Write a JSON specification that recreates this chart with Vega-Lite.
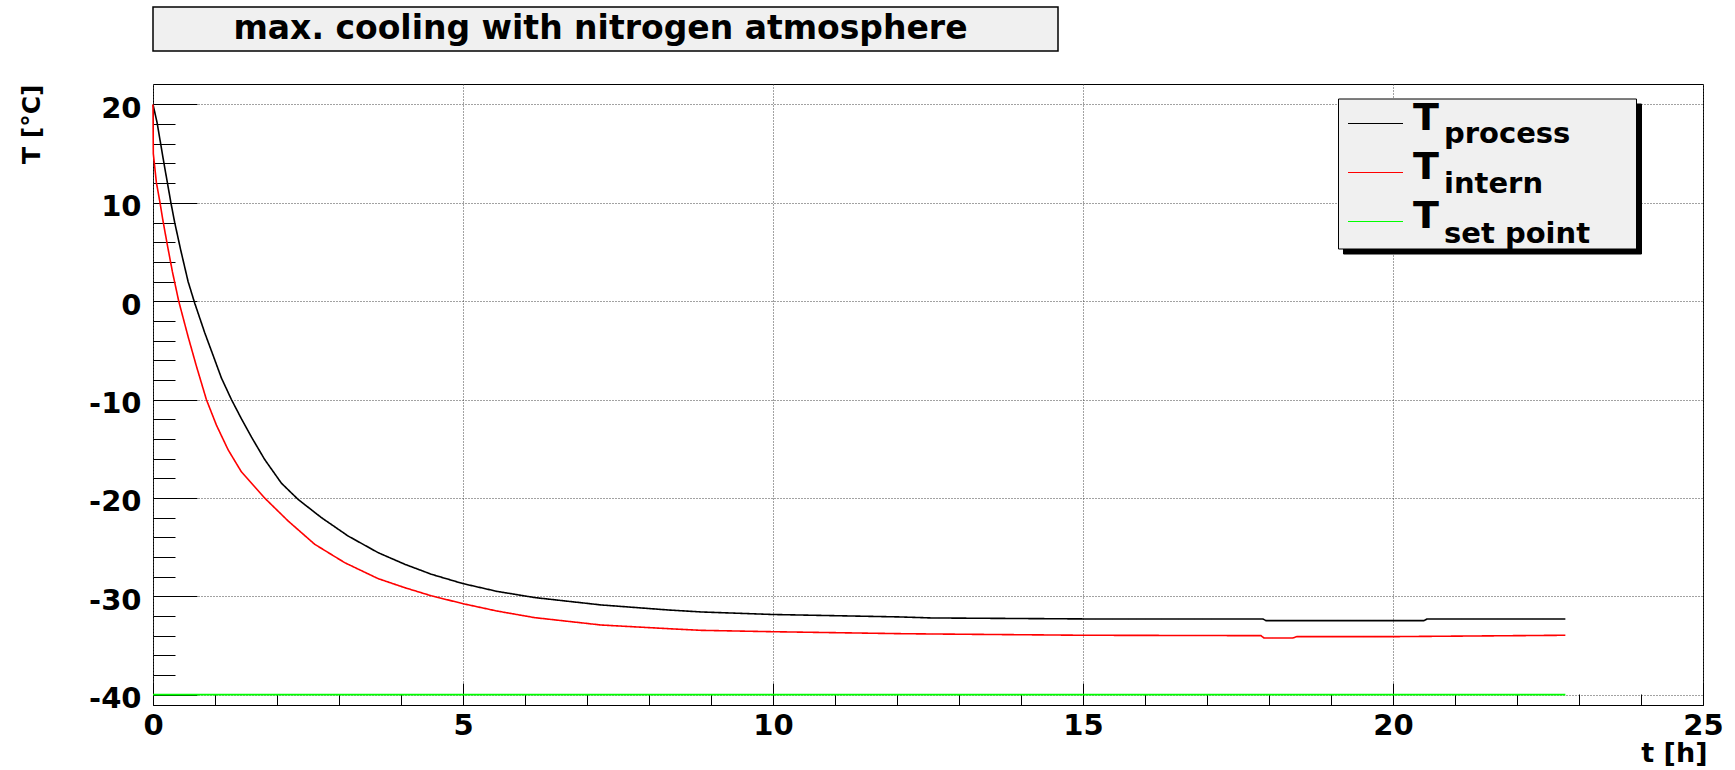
{
  "$schema": "https://vega.github.io/schema/vega-lite/v6.json",
  "background": "white",
  "padding": {"left": 18, "top": 6, "right": 5, "bottom": 5},
  "bounds": "flush",
  "spacing": 33,
  "config": {
    "font": "DejaVu Sans",
    "view": {"stroke": "#000000", "strokeWidth": 1},
    "axis": {
      "labelFont": "DejaVu Sans", "labelFontWeight": "bold", "labelColor": "#000000",
      "titleFont": "DejaVu Sans", "titleFontWeight": "bold", "titleColor": "#000000",
      "domain": false, "tickColor": "#000000", "tickWidth": 1
    },
    "legend": {"labelFont": "DejaVu Sans", "labelFontWeight": "bold", "labelColor": "#000000"}
  },
  "vconcat": [
    {
      "width": 905,
      "height": 44,
      "view": {"fill": "#f0f0f0", "stroke": "#000000", "strokeWidth": 1.5},
      "data": {"values": [{"label": "max. cooling with nitrogen atmosphere"}]},
      "mark": {"type": "text", "font": "DejaVu Sans", "fontWeight": "bold", "fontSize": 33, "align": "center", "baseline": "middle", "dx": -5, "color": "#000000"},
      "encoding": {"text": {"field": "label", "type": "nominal"}}
    },
    {
      "width": 1550,
      "height": 621,
      "view": {"fill": "white", "stroke": "#000000", "strokeWidth": 1},
      "data": {"values": [
        {"t": 0, "T": 20.0, "series": "process"},
        {"t": 0.066, "T": 18.15, "series": "process"},
        {"t": 0.125, "T": 15.95, "series": "process"},
        {"t": 0.18, "T": 13.9, "series": "process"},
        {"t": 0.232, "T": 12.05, "series": "process"},
        {"t": 0.286, "T": 10.1, "series": "process"},
        {"t": 0.35, "T": 8.0, "series": "process"},
        {"t": 0.447, "T": 5.2, "series": "process"},
        {"t": 0.566, "T": 2.0, "series": "process"},
        {"t": 0.673, "T": -0.2, "series": "process"},
        {"t": 0.834, "T": -3.2, "series": "process"},
        {"t": 0.969, "T": -5.5, "series": "process"},
        {"t": 1.103, "T": -7.8, "series": "process"},
        {"t": 1.265, "T": -10.0, "series": "process"},
        {"t": 1.426, "T": -11.95, "series": "process"},
        {"t": 1.587, "T": -13.8, "series": "process"},
        {"t": 1.802, "T": -16.1, "series": "process"},
        {"t": 2.071, "T": -18.5, "series": "process"},
        {"t": 2.34, "T": -20.15, "series": "process"},
        {"t": 2.716, "T": -22.0, "series": "process"},
        {"t": 3.147, "T": -23.87, "series": "process"},
        {"t": 3.63, "T": -25.56, "series": "process"},
        {"t": 4.06, "T": -26.74, "series": "process"},
        {"t": 4.49, "T": -27.76, "series": "process"},
        {"t": 5.0, "T": -28.71, "series": "process"},
        {"t": 5.55, "T": -29.5, "series": "process"},
        {"t": 6.157, "T": -30.13, "series": "process"},
        {"t": 7.23, "T": -30.88, "series": "process"},
        {"t": 8.31, "T": -31.39, "series": "process"},
        {"t": 8.84, "T": -31.59, "series": "process"},
        {"t": 10.0, "T": -31.85, "series": "process"},
        {"t": 12.07, "T": -32.1, "series": "process"},
        {"t": 12.55, "T": -32.2, "series": "process"},
        {"t": 15.0, "T": -32.3, "series": "process"},
        {"t": 17.9, "T": -32.3, "series": "process"},
        {"t": 17.95, "T": -32.47, "series": "process"},
        {"t": 20.5, "T": -32.47, "series": "process"},
        {"t": 20.55, "T": -32.3, "series": "process"},
        {"t": 22.78, "T": -32.3, "series": "process"},
        {"t": 0, "T": 20.0, "series": "intern"},
        {"t": 0.005, "T": 15.0, "series": "intern"},
        {"t": 0.055, "T": 12.05, "series": "intern"},
        {"t": 0.108, "T": 10.2, "series": "intern"},
        {"t": 0.163, "T": 8.1, "series": "intern"},
        {"t": 0.232, "T": 5.7, "series": "intern"},
        {"t": 0.313, "T": 3.0, "series": "intern"},
        {"t": 0.415, "T": 0.0, "series": "intern"},
        {"t": 0.566, "T": -3.6, "series": "intern"},
        {"t": 0.7, "T": -6.6, "series": "intern"},
        {"t": 0.861, "T": -10.0, "series": "intern"},
        {"t": 1.023, "T": -12.6, "series": "intern"},
        {"t": 1.211, "T": -15.1, "series": "intern"},
        {"t": 1.426, "T": -17.35, "series": "intern"},
        {"t": 1.8, "T": -20.0, "series": "intern"},
        {"t": 2.179, "T": -22.34, "series": "intern"},
        {"t": 2.608, "T": -24.71, "series": "intern"},
        {"t": 3.092, "T": -26.58, "series": "intern"},
        {"t": 3.63, "T": -28.2, "series": "intern"},
        {"t": 4.06, "T": -29.12, "series": "intern"},
        {"t": 4.49, "T": -29.95, "series": "intern"},
        {"t": 5.0, "T": -30.75, "series": "intern"},
        {"t": 5.55, "T": -31.5, "series": "intern"},
        {"t": 6.157, "T": -32.17, "series": "intern"},
        {"t": 7.23, "T": -32.92, "series": "intern"},
        {"t": 8.31, "T": -33.29, "series": "intern"},
        {"t": 8.84, "T": -33.46, "series": "intern"},
        {"t": 10.0, "T": -33.6, "series": "intern"},
        {"t": 12.07, "T": -33.8, "series": "intern"},
        {"t": 12.55, "T": -33.83, "series": "intern"},
        {"t": 15.0, "T": -33.96, "series": "intern"},
        {"t": 17.87, "T": -34.0, "series": "intern"},
        {"t": 17.92, "T": -34.24, "series": "intern"},
        {"t": 18.38, "T": -34.24, "series": "intern"},
        {"t": 18.45, "T": -34.1, "series": "intern"},
        {"t": 20.0, "T": -34.1, "series": "intern"},
        {"t": 22.78, "T": -33.96, "series": "intern"},
        {"t": 0, "T": -40.0, "series": "set point"},
        {"t": 22.78, "T": -40.0, "series": "set point"}
      ]},
      "transform": [
        {"calculate": "datum.series", "as": "sub"},
        {"calculate": "datum.series", "as": "sh"}
      ],
      "layer": [
        {
          "mark": {"type": "line", "strokeWidth": 1.6, "interpolate": "linear"},
          "encoding": {
            "x": {
              "field": "t", "type": "quantitative",
              "scale": {"domain": [0, 25], "nice": false, "zero": false},
              "axis": {
                "orient": "bottom", "values": [0, 5, 10, 15, 20, 25],
                "grid": true, "gridDash": [1, 2], "gridColor": "#444444", "gridWidth": 1,
                "ticks": false, "domain": false,
                "labelFontSize": 29, "labelPadding": 6, "labelFlush": false, "labelOverlap": false,
                "title": "t [h]", "titleFontSize": 27, "titleX": 1554, "titleY": 56.5,
                "titleAlign": "right", "titleBaseline": "alphabetic", "titleAngle": 0
              }
            },
            "y": {
              "field": "T", "type": "quantitative",
              "scale": {"domain": [-41.05, 22.08], "nice": false, "zero": false},
              "axis": {
                "orient": "left", "values": [-40, -30, -20, -10, 0, 10, 20],
                "grid": true, "gridDash": [1, 2], "gridColor": "#444444", "gridWidth": 1,
                "ticks": false, "domain": false,
                "labelExpr": "datum.value < 0 ? '-' + abs(datum.value) : '' + datum.value",
                "labelFontSize": 29, "labelPadding": 12, "labelOffset": 4, "labelOverlap": false,
                "title": "T [°C]", "titleFontSize": 25, "titleX": -113.7, "titleY": 0,
                "titleAngle": 270, "titleAlign": "right", "titleBaseline": "alphabetic"
              }
            },
            "color": {
              "field": "series", "type": "nominal",
              "sort": ["process", "intern", "set point"],
              "scale": {"range": ["#000000", "#ff0000", "#00ff00"]},
              "legend": {
                "orient": "none", "legendX": 1188, "legendY": 93.1, "direction": "vertical",
                "title": null, "padding": 0, "labelExpr": "'T'",
                "labelFont": "DejaVu Sans", "labelFontWeight": "bold", "labelFontSize": 38,
                "labelColor": "#000000", "labelBaseline": "middle", "labelOffset": 34,
                "symbolType": "M-2.4,0.88H8.6", "symbolSize": 100, "symbolStrokeWidth": 1.2,
                "symbolOffset": 0, "rowPadding": 11, "zindex": 2
              }
            },
            "strokeDash": {
              "field": "sub", "type": "nominal",
              "sort": ["process", "intern", "set point"],
              "scale": {"range": [[1, 0], [1, 0], [1, 0]]},
              "legend": {
                "orient": "none", "legendX": 1185, "legendY": 91.5, "direction": "vertical",
                "title": null, "padding": 0, "fillColor": "#f0f0f0", "strokeColor": "#000000",
                "labelFont": "DejaVu Sans", "labelFontWeight": "bold", "labelFontSize": 29,
                "labelColor": "#000000", "labelBaseline": "top", "labelOffset": 64,
                "symbolType": "M0,0H13.19", "symbolSize": 1764, "symbolStrokeWidth": 0,
                "symbolOpacity": 0, "rowPadding": 0, "zindex": 1
              }
            },
            "opacity": {
              "field": "sh", "type": "nominal",
              "sort": ["process", "intern", "set point"],
              "scale": {"range": [1, 1]},
              "legend": {
                "orient": "none", "legendX": 1190, "legendY": 96.5, "direction": "vertical",
                "title": null, "padding": 0, "fillColor": "#000000", "strokeColor": "#000000",
                "labelFont": "DejaVu Sans", "labelFontWeight": "bold", "labelFontSize": 29,
                "labelOpacity": 0, "labelBaseline": "top", "labelOffset": 64,
                "symbolType": "M0,0H13.19", "symbolSize": 1764, "symbolStrokeWidth": 0,
                "symbolOpacity": 0, "rowPadding": 0, "zindex": 0
              }
            }
          }
        },
        {
          "transform": [{"filter": "datum.series === 'set point'"}],
          "mark": {"type": "point", "opacity": 0, "size": 1},
          "encoding": {
            "x": {
              "field": "t", "type": "quantitative",
              "scale": {"domain": [0, 25], "nice": false, "zero": false},
              "axis": {"orient": "bottom", "values": [0, 5, 10, 15, 20, 25], "tickSize": -22, "labels": false, "domain": false, "grid": false, "title": null}
            },
            "y": {
              "field": "T", "type": "quantitative",
              "scale": {"domain": [-41.05, 22.08], "nice": false, "zero": false},
              "axis": {"orient": "left", "values": [-40, -30, -20, -10, 0, 10, 20], "tickSize": -44, "labels": false, "domain": false, "grid": false, "title": null}
            }
          }
        },
        {
          "transform": [{"filter": "datum.series === 'set point'"}],
          "mark": {"type": "point", "opacity": 0, "size": 1},
          "encoding": {
            "x": {
              "field": "t", "type": "quantitative",
              "scale": {"domain": [0, 25], "nice": false, "zero": false},
              "axis": {"orient": "bottom", "values": [0, 1, 2, 3, 4, 5, 6, 7, 8, 9, 10, 11, 12, 13, 14, 15, 16, 17, 18, 19, 20, 21, 22, 23, 24, 25], "tickSize": -11, "labels": false, "domain": false, "grid": false, "title": null}
            },
            "y": {
              "field": "T", "type": "quantitative",
              "scale": {"domain": [-41.05, 22.08], "nice": false, "zero": false},
              "axis": {"orient": "left", "values": [-40, -38, -36, -34, -32, -30, -28, -26, -24, -22, -20, -18, -16, -14, -12, -10, -8, -6, -4, -2, 0, 2, 4, 6, 8, 10, 12, 14, 16, 18, 20], "tickSize": -22, "labels": false, "domain": false, "grid": false, "title": null}
            }
          }
        }
      ],
      "resolve": {"axis": {"x": "independent", "y": "independent"}}
    }
  ]
}
